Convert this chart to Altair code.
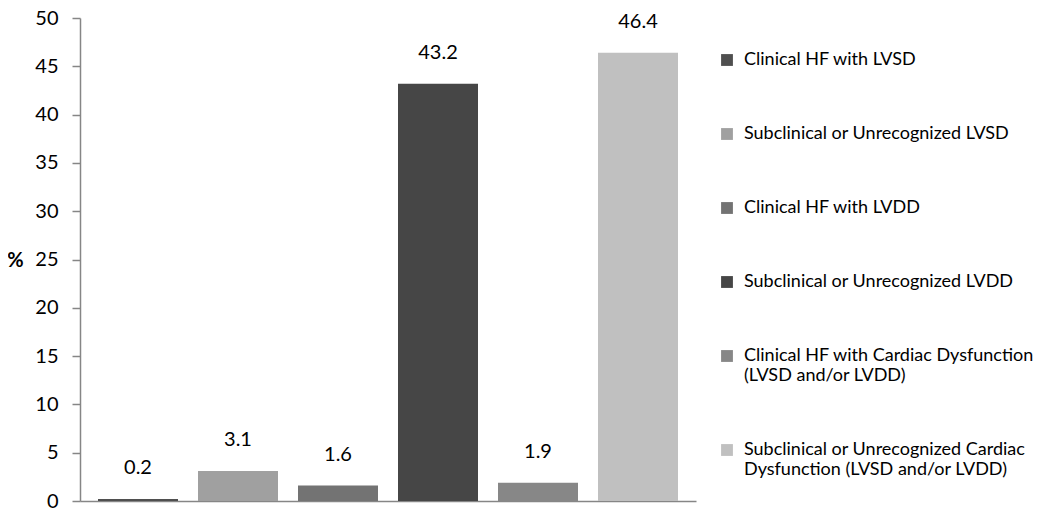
import altair as alt
import pandas as pd

categories = [
    "Clinical HF with LVSD",
    "Subclinical or Unrecognized LVSD",
    "Clinical HF with LVDD",
    "Subclinical or Unrecognized  LVDD",
    "Clinical HF with Cardiac Dysfunction|(LVSD and/or LVDD)",
    "Subclinical or Unrecognized Cardiac|Dysfunction (LVSD and/or LVDD)",
]
values = [0.2, 3.1, 1.6, 43.2, 1.9, 46.4]
colors = ["#4f4f4f", "#a0a0a0", "#737373", "#464646", "#878787", "#c0c0c0"]
y_ticks = list(range(0, 51, 5))

df = pd.DataFrame({"category": categories, "value": values})

FONT = "Lato"
AXIS_COLOR = "#868686"

x_enc = alt.X(
    "category:N",
    sort=categories,
    scale=alt.Scale(paddingInner=0.2, paddingOuter=0.18),
    axis=alt.Axis(labels=False, ticks=False, title=None, domainColor=AXIS_COLOR,
                  domainWidth=1.5),
)
y_enc = alt.Y(
    "value:Q",
    scale=alt.Scale(domain=[0, 50], nice=False),
    axis=alt.Axis(
        values=y_ticks, grid=False, title="%", titleAngle=0, titleFontSize=20,
        titleFontWeight="bold", titleFont=FONT, titleX=-65, titleY=242,
        titleAlign="center", titleBaseline="middle",
        labelFont=FONT, labelFontSize=20, labelColor="#000000", labelPadding=14,
        tickSize=8, tickColor=AXIS_COLOR, domainColor=AXIS_COLOR, domainWidth=1.5,
        tickWidth=1.5,
    ),
)

bars = alt.Chart(df).mark_bar().encode(
    x=x_enc,
    y=y_enc,
    color=alt.Color(
        "category:N",
        sort=categories,
        scale=alt.Scale(domain=categories, range=colors),
        legend=alt.Legend(
            title=None, orient="none", legendX=638, legendY=33, padding=0,
            rowPadding=56, symbolType="square", symbolSize=140,
            symbolStrokeWidth=0, labelFont=FONT, labelFontSize=18,
            labelColor="#000000", labelLimit=400, labelOffset=8,
            labelExpr="split(datum.label, '|')",
        ),
    ),
)

labels = alt.Chart(df).mark_text(
    dy=-31, baseline="middle", fontSize=20, font=FONT, color="#000000"
).encode(
    x=alt.X("category:N", sort=categories),
    y=alt.Y("value:Q"),
    text=alt.Text("value:Q", format=".1f"),
)

chart = (
    alt.layer(bars, labels)
    .properties(
        width=616, height=483,
        autosize=alt.AutoSizeParams(type="none"),
        padding={"left": 72, "top": 10, "right": 346, "bottom": 12},
        background="#ffffff",
    )
    .configure_view(stroke=None)
)

chart.save("out.html", embed_options={"renderer": "svg", "actions": False})
